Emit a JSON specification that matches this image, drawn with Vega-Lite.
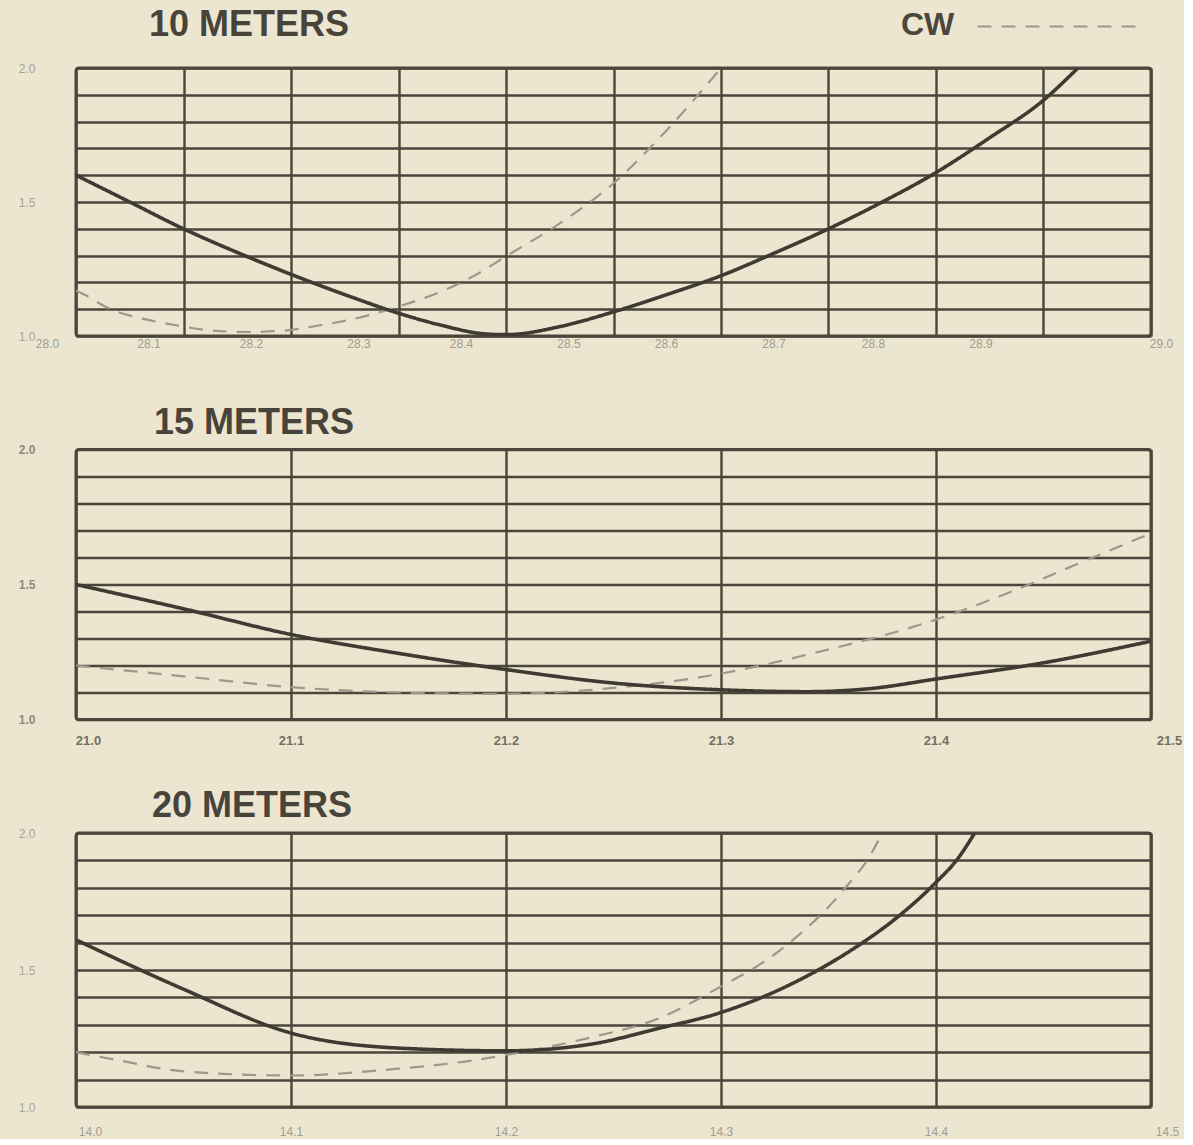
{
  "$schema": "https://vega.github.io/schema/vega-lite/v6.json",
  "background": "#ece6d1",
  "padding": {"left": 16, "top": 5, "right": 0, "bottom": 0},
  "autosize": {"type": "pad"},
  "spacing": 113.5,
  "bounds": "flush",
  "config": {
    "view": {"stroke": "#4b463b", "strokeWidth": 3, "cornerRadius": 3},
    "axis": {"grid": true, "gridColor": "#4b463b", "gridWidth": 2.4, "gridOpacity": 1, "domain": false, "ticks": false, "tickSize": 0, "labelFont": "Liberation Sans", "labelFontSize": 12, "labelOverlap": false, "labelFlush": false},
    "title": {"font": "Liberation Sans", "fontWeight": "bold", "fontSize": 36, "color": "#48443a", "anchor": "start", "frame": "group"}
  },
  "data": {"values": [
    {"band": "10 METERS", "mode": "Phone", "f": 28.0, "swr": 1.6},
    {"band": "10 METERS", "mode": "Phone", "f": 28.05, "swr": 1.5},
    {"band": "10 METERS", "mode": "Phone", "f": 28.1, "swr": 1.4},
    {"band": "10 METERS", "mode": "Phone", "f": 28.157, "swr": 1.3},
    {"band": "10 METERS", "mode": "Phone", "f": 28.2, "swr": 1.23},
    {"band": "10 METERS", "mode": "Phone", "f": 28.26, "swr": 1.14},
    {"band": "10 METERS", "mode": "Phone", "f": 28.3, "swr": 1.085},
    {"band": "10 METERS", "mode": "Phone", "f": 28.34, "swr": 1.04},
    {"band": "10 METERS", "mode": "Phone", "f": 28.38, "swr": 1.008},
    {"band": "10 METERS", "mode": "Phone", "f": 28.4, "swr": 1.005},
    {"band": "10 METERS", "mode": "Phone", "f": 28.45, "swr": 1.035},
    {"band": "10 METERS", "mode": "Phone", "f": 28.5, "swr": 1.09},
    {"band": "10 METERS", "mode": "Phone", "f": 28.55, "swr": 1.155},
    {"band": "10 METERS", "mode": "Phone", "f": 28.6, "swr": 1.225},
    {"band": "10 METERS", "mode": "Phone", "f": 28.65, "swr": 1.31},
    {"band": "10 METERS", "mode": "Phone", "f": 28.7, "swr": 1.4},
    {"band": "10 METERS", "mode": "Phone", "f": 28.75, "swr": 1.5},
    {"band": "10 METERS", "mode": "Phone", "f": 28.8, "swr": 1.61},
    {"band": "10 METERS", "mode": "Phone", "f": 28.85, "swr": 1.74},
    {"band": "10 METERS", "mode": "Phone", "f": 28.9, "swr": 1.88},
    {"band": "10 METERS", "mode": "Phone", "f": 28.932, "swr": 2.0},
    {"band": "10 METERS", "mode": "CW", "f": 28.0, "swr": 1.17},
    {"band": "10 METERS", "mode": "CW", "f": 28.01, "swr": 1.15},
    {"band": "10 METERS", "mode": "CW", "f": 28.027, "swr": 1.11},
    {"band": "10 METERS", "mode": "CW", "f": 28.067, "swr": 1.06},
    {"band": "10 METERS", "mode": "CW", "f": 28.093, "swr": 1.04},
    {"band": "10 METERS", "mode": "CW", "f": 28.127, "swr": 1.02},
    {"band": "10 METERS", "mode": "CW", "f": 28.16, "swr": 1.015},
    {"band": "10 METERS", "mode": "CW", "f": 28.193, "swr": 1.02},
    {"band": "10 METERS", "mode": "CW", "f": 28.227, "swr": 1.04},
    {"band": "10 METERS", "mode": "CW", "f": 28.26, "swr": 1.065},
    {"band": "10 METERS", "mode": "CW", "f": 28.3, "swr": 1.11},
    {"band": "10 METERS", "mode": "CW", "f": 28.345, "swr": 1.175},
    {"band": "10 METERS", "mode": "CW", "f": 28.377, "swr": 1.24},
    {"band": "10 METERS", "mode": "CW", "f": 28.397, "swr": 1.29},
    {"band": "10 METERS", "mode": "CW", "f": 28.45, "swr": 1.42},
    {"band": "10 METERS", "mode": "CW", "f": 28.5, "swr": 1.57},
    {"band": "10 METERS", "mode": "CW", "f": 28.55, "swr": 1.77},
    {"band": "10 METERS", "mode": "CW", "f": 28.6, "swr": 2.0},
    {"band": "15 METERS", "mode": "Phone", "f": 21.0, "swr": 1.5},
    {"band": "15 METERS", "mode": "Phone", "f": 21.05, "swr": 1.41},
    {"band": "15 METERS", "mode": "Phone", "f": 21.1, "swr": 1.315},
    {"band": "15 METERS", "mode": "Phone", "f": 21.15, "swr": 1.245},
    {"band": "15 METERS", "mode": "Phone", "f": 21.2, "swr": 1.185},
    {"band": "15 METERS", "mode": "Phone", "f": 21.25, "swr": 1.135},
    {"band": "15 METERS", "mode": "Phone", "f": 21.3, "swr": 1.11},
    {"band": "15 METERS", "mode": "Phone", "f": 21.34, "swr": 1.103},
    {"band": "15 METERS", "mode": "Phone", "f": 21.37, "swr": 1.115},
    {"band": "15 METERS", "mode": "Phone", "f": 21.4, "swr": 1.15},
    {"band": "15 METERS", "mode": "Phone", "f": 21.45, "swr": 1.21},
    {"band": "15 METERS", "mode": "Phone", "f": 21.5, "swr": 1.29},
    {"band": "15 METERS", "mode": "CW", "f": 21.0, "swr": 1.2},
    {"band": "15 METERS", "mode": "CW", "f": 21.05, "swr": 1.16},
    {"band": "15 METERS", "mode": "CW", "f": 21.1, "swr": 1.12},
    {"band": "15 METERS", "mode": "CW", "f": 21.15, "swr": 1.1},
    {"band": "15 METERS", "mode": "CW", "f": 21.2, "swr": 1.095},
    {"band": "15 METERS", "mode": "CW", "f": 21.24, "swr": 1.11},
    {"band": "15 METERS", "mode": "CW", "f": 21.3, "swr": 1.17},
    {"band": "15 METERS", "mode": "CW", "f": 21.34, "swr": 1.24},
    {"band": "15 METERS", "mode": "CW", "f": 21.4, "swr": 1.37},
    {"band": "15 METERS", "mode": "CW", "f": 21.434, "swr": 1.47},
    {"band": "15 METERS", "mode": "CW", "f": 21.464, "swr": 1.57},
    {"band": "15 METERS", "mode": "CW", "f": 21.5, "swr": 1.69},
    {"band": "20 METERS", "mode": "Phone", "f": 14.0, "swr": 1.61},
    {"band": "20 METERS", "mode": "Phone", "f": 14.05, "swr": 1.43},
    {"band": "20 METERS", "mode": "Phone", "f": 14.1, "swr": 1.27},
    {"band": "20 METERS", "mode": "Phone", "f": 14.15, "swr": 1.215},
    {"band": "20 METERS", "mode": "Phone", "f": 14.2, "swr": 1.205},
    {"band": "20 METERS", "mode": "Phone", "f": 14.24, "swr": 1.23},
    {"band": "20 METERS", "mode": "Phone", "f": 14.27, "swr": 1.285},
    {"band": "20 METERS", "mode": "Phone", "f": 14.3, "swr": 1.345},
    {"band": "20 METERS", "mode": "Phone", "f": 14.333, "swr": 1.45},
    {"band": "20 METERS", "mode": "Phone", "f": 14.364, "swr": 1.59},
    {"band": "20 METERS", "mode": "Phone", "f": 14.38, "swr": 1.68},
    {"band": "20 METERS", "mode": "Phone", "f": 14.4, "swr": 1.82},
    {"band": "20 METERS", "mode": "Phone", "f": 14.41, "swr": 1.905},
    {"band": "20 METERS", "mode": "Phone", "f": 14.418, "swr": 2.0},
    {"band": "20 METERS", "mode": "CW", "f": 14.0, "swr": 1.2},
    {"band": "20 METERS", "mode": "CW", "f": 14.02, "swr": 1.17},
    {"band": "20 METERS", "mode": "CW", "f": 14.05, "swr": 1.13},
    {"band": "20 METERS", "mode": "CW", "f": 14.1, "swr": 1.115},
    {"band": "20 METERS", "mode": "CW", "f": 14.15, "swr": 1.14},
    {"band": "20 METERS", "mode": "CW", "f": 14.18, "swr": 1.165},
    {"band": "20 METERS", "mode": "CW", "f": 14.2, "swr": 1.19},
    {"band": "20 METERS", "mode": "CW", "f": 14.24, "swr": 1.255},
    {"band": "20 METERS", "mode": "CW", "f": 14.27, "swr": 1.32},
    {"band": "20 METERS", "mode": "CW", "f": 14.3, "swr": 1.44},
    {"band": "20 METERS", "mode": "CW", "f": 14.32, "swr": 1.53},
    {"band": "20 METERS", "mode": "CW", "f": 14.335, "swr": 1.62},
    {"band": "20 METERS", "mode": "CW", "f": 14.35, "swr": 1.73},
    {"band": "20 METERS", "mode": "CW", "f": 14.36, "swr": 1.82},
    {"band": "20 METERS", "mode": "CW", "f": 14.368, "swr": 1.9},
    {"band": "20 METERS", "mode": "CW", "f": 14.375, "swr": 2.0}
  ]},
  "vconcat": [
    {
      "width": 1075, "height": 268,
      "title": {"text": "10 METERS", "dx": 73, "offset": 18},
      "transform": [{"filter": "datum.band == '10 METERS'"}],
      "encoding": {
        "x": {"field": "f", "type": "quantitative", "scale": {"domain": [28, 29], "nice": false, "zero": false},
          "axis": {"title": null, "values": [28, 28.1, 28.2, 28.3, 28.4, 28.5, 28.6, 28.7, 28.8, 28.9, 29], "format": ".1f", "labelPadding": 2, "labelColor": "#a19c8f",
            "labelOffset": {"condition": [{"test": "datum.value > 28.95", "value": 10}, {"test": "datum.value > 28.75", "value": -63}, {"test": "datum.value > 28.55", "value": -55}, {"test": "datum.value > 28.35", "value": -45}, {"test": "datum.value > 28.15", "value": -40}, {"test": "datum.value > 28.05", "value": -35}], "value": -29}}},
        "y": {"field": "swr", "type": "quantitative", "scale": {"domain": [1, 2], "nice": false, "zero": false},
          "axis": {"title": null, "values": [1, 1.1, 1.2, 1.3, 1.4, 1.5, 1.6, 1.7, 1.8, 1.9, 2], "labelExpr": "(abs(datum.value-1)<0.01 || abs(datum.value-1.5)<0.01 || abs(datum.value-2)<0.01) ? format(datum.value, '.1f') : ''", "labelPadding": 41, "labelColor": "#a7a295"}},
        "strokeDash": {"field": "mode", "type": "nominal", "scale": {"domain": ["Phone", "CW"], "range": [[1, 0], [14, 10]]},
          "legend": {"values": ["CW"], "orient": "none", "legendX": 825, "legendY": -48, "title": "CW", "titleOrient": "left", "titleAnchor": "middle", "titleBaseline": "middle", "titleFontSize": 32, "titleFont": "Liberation Sans", "titleFontWeight": "bold", "titleColor": "#4a463c", "titlePadding": 96, "symbolType": "M-16,0H16", "symbolSize": 100, "symbolStrokeWidth": 2.2, "symbolStrokeColor": "#9d988c", "symbolFillColor": "transparent", "labelExpr": "''", "labelFontSize": 1}}
      },
      "layer": [
        {"transform": [{"filter": "datum.mode == 'CW'"}], "mark": {"type": "line", "color": "#9d988c", "strokeWidth": 2.2, "interpolate": "monotone", "clip": true}},
        {"transform": [{"filter": "datum.mode == 'Phone'"}], "mark": {"type": "line", "color": "#403b32", "strokeWidth": 3.6, "interpolate": "monotone", "clip": true}}
      ]
    },
    {
      "width": 1075, "height": 270,
      "title": {"text": "15 METERS", "dx": 78, "offset": 2},
      "transform": [{"filter": "datum.band == '15 METERS'"}],
      "encoding": {
        "x": {"field": "f", "type": "quantitative", "scale": {"domain": [21, 21.5], "nice": false, "zero": false},
          "axis": {"title": null, "values": [21, 21.1, 21.2, 21.3, 21.4, 21.5], "format": ".1f", "labelPadding": 15, "labelColor": "#776f60", "labelFontWeight": "bold", "labelFontSize": 13,
            "labelOffset": {"condition": [{"test": "datum.value > 21.45", "value": 18}, {"test": "datum.value < 21.05", "value": 12}], "value": 0}}},
        "y": {"field": "swr", "type": "quantitative", "scale": {"domain": [1, 2], "nice": false, "zero": false},
          "axis": {"title": null, "values": [1, 1.1, 1.2, 1.3, 1.4, 1.5, 1.6, 1.7, 1.8, 1.9, 2], "labelExpr": "(abs(datum.value-1)<0.01 || abs(datum.value-1.5)<0.01 || abs(datum.value-2)<0.01) ? format(datum.value, '.1f') : ''", "labelPadding": 41, "labelColor": "#8f897b", "labelFontWeight": "bold"}},
        "strokeDash": {"field": "mode", "type": "nominal", "scale": {"domain": ["Phone", "CW"], "range": [[1, 0], [14, 10]]},
          "legend": {"values": ["CW"], "orient": "none", "legendX": 825, "legendY": -48, "title": "CW", "titleOrient": "left", "titleAnchor": "middle", "titleBaseline": "middle", "titleFontSize": 32, "titleFont": "Liberation Sans", "titleFontWeight": "bold", "titleColor": "#4a463c", "titlePadding": 96, "symbolType": "M-16,0H16", "symbolSize": 100, "symbolStrokeWidth": 2.2, "symbolStrokeColor": "#9d988c", "symbolFillColor": "transparent", "labelExpr": "''", "labelFontSize": 1}}
      },
      "layer": [
        {"transform": [{"filter": "datum.mode == 'CW'"}], "mark": {"type": "line", "color": "#9d988c", "strokeWidth": 2.2, "interpolate": "monotone", "clip": true}},
        {"transform": [{"filter": "datum.mode == 'Phone'"}], "mark": {"type": "line", "color": "#403b32", "strokeWidth": 3.6, "interpolate": "monotone", "clip": true}}
      ]
    },
    {
      "width": 1075, "height": 274,
      "title": {"text": "20 METERS", "dx": 76, "offset": 2},
      "transform": [{"filter": "datum.band == '20 METERS'"}],
      "encoding": {
        "x": {"field": "f", "type": "quantitative", "scale": {"domain": [14, 14.5], "nice": false, "zero": false},
          "axis": {"title": null, "values": [14, 14.1, 14.2, 14.3, 14.4, 14.5], "format": ".1f", "labelPadding": 19, "labelColor": "#a19c8f",
            "labelOffset": {"condition": [{"test": "datum.value > 14.45", "value": 16}, {"test": "datum.value < 14.05", "value": 14}], "value": 0}}},
        "y": {"field": "swr", "type": "quantitative", "scale": {"domain": [1, 2], "nice": false, "zero": false},
          "axis": {"title": null, "values": [1, 1.1, 1.2, 1.3, 1.4, 1.5, 1.6, 1.7, 1.8, 1.9, 2], "labelExpr": "(abs(datum.value-1)<0.01 || abs(datum.value-1.5)<0.01 || abs(datum.value-2)<0.01) ? format(datum.value, '.1f') : ''", "labelPadding": 41, "labelColor": "#aaa598"}},
        "strokeDash": {"field": "mode", "type": "nominal", "scale": {"domain": ["Phone", "CW"], "range": [[1, 0], [14, 10]]},
          "legend": {"values": ["CW"], "orient": "none", "legendX": 825, "legendY": -48, "title": "CW", "titleOrient": "left", "titleAnchor": "middle", "titleBaseline": "middle", "titleFontSize": 32, "titleFont": "Liberation Sans", "titleFontWeight": "bold", "titleColor": "#4a463c", "titlePadding": 96, "symbolType": "M-16,0H16", "symbolSize": 100, "symbolStrokeWidth": 2.2, "symbolStrokeColor": "#9d988c", "symbolFillColor": "transparent", "labelExpr": "''", "labelFontSize": 1}}
      },
      "layer": [
        {"transform": [{"filter": "datum.mode == 'CW'"}], "mark": {"type": "line", "color": "#9d988c", "strokeWidth": 2.2, "interpolate": "monotone", "clip": true}},
        {"transform": [{"filter": "datum.mode == 'Phone'"}], "mark": {"type": "line", "color": "#403b32", "strokeWidth": 3.6, "interpolate": "monotone", "clip": true}}
      ]
    }
  ]
}
